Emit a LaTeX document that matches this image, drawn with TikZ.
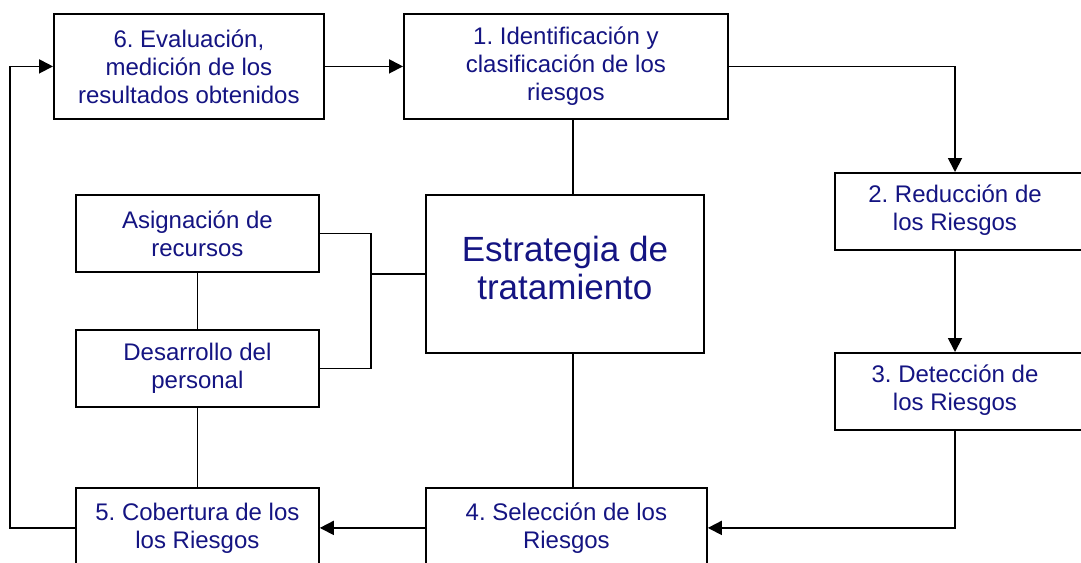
\documentclass[tikz,border=0pt]{standalone}
\usepackage{fontspec}
\setmainfont{Liberation Sans}
\usetikzlibrary{arrows.meta}
\definecolor{txtblue}{RGB}{20,20,130}
\frenchspacing
\begin{document}
\begin{tikzpicture}[x=1pt,y=-1pt,
  box/.style={draw=black, line width=1.8pt, rectangle, inner sep=0pt, anchor=north west,
    align=center, text=txtblue, font=\fontsize{24}{28}\selectfont},
  plain/.style={inner sep=0pt, align=center, text=txtblue, font=\fontsize{24}{28}\selectfont},
  conn/.style={line width=1.8pt, draw=black},
  arr/.style={conn, -{Triangle[length=14pt,width=14pt]}},
]
\useasboundingbox (0,0) rectangle (1081,562);
\clip (0,0) rectangle (1081,562);
\fill[white] (0,0) rectangle (1081,562);

% boxes
\node[box, minimum width=270pt, minimum height=105pt] (b6) at (53,13) {6. Evaluación,\\medición de los\\resultados obtenidos};
\node[box, minimum width=324pt, minimum height=105pt] (b1) at (403,13) {1. Identificación y\\clasificación de los\\riesgos};
\node[box, minimum width=278pt, minimum height=158pt, text depth=12pt, font=\fontsize{35}{38}\selectfont] (es) at (425,194) {Estrategia de\\tratamiento};
\node[box, minimum width=243pt, minimum height=77pt] (as) at (75,194) {Asignación de\\recursos};
\node[box, minimum width=243pt, minimum height=77pt] (de) at (75,329) {Desarrollo del\\personal};
\node[box, minimum width=243pt, minimum height=80pt] (b5) at (75,487) {5. Cobertura de los\\los Riesgos};
\node[box, minimum width=281pt, minimum height=80pt] (b4) at (425,487) {4. Selección de los\\Riesgos};
\node[box, minimum width=260pt, minimum height=77pt] (b2) at (834,172) {};
\node[plain] (t2) at (955,210.5) {2. Reducción de\\los Riesgos};
\node[box, minimum width=260pt, minimum height=77pt] (b3) at (834,352) {};
\node[plain] (t3) at (955,390.5) {3. Detección de\\los Riesgos};

\coordinate (vx) at (573,0);
\coordinate (bx) at (371,0);

% arrows
\draw[arr] (b6.east) -- (b1.west);
\draw[arr] (b1.east) -| (t2 |- b2.north);
\draw[arr] (t2 |- b2.south) -- (t3 |- b3.north);
\draw[arr] (t3 |- b3.south) |- (b4.east);
\draw[arr] (b4.west) -- (b5.east);
\draw[arr] (b5.west) -- ++(-65,0) |- (b6.west);

% plain connectors
\draw[conn] (b1.south -| vx) -- (es.north -| vx);
\draw[conn] (es.south -| vx) -- (b4.north -| vx);
\draw[conn] (as.south) -- (de.north);
\draw[conn] (de.south) -- (b5.north);
\draw[conn] (as.east) -| (bx |- de.east) -- (de.east);
\draw[conn] (bx |- es.west) -- (es.west);
\end{tikzpicture}
\end{document}
